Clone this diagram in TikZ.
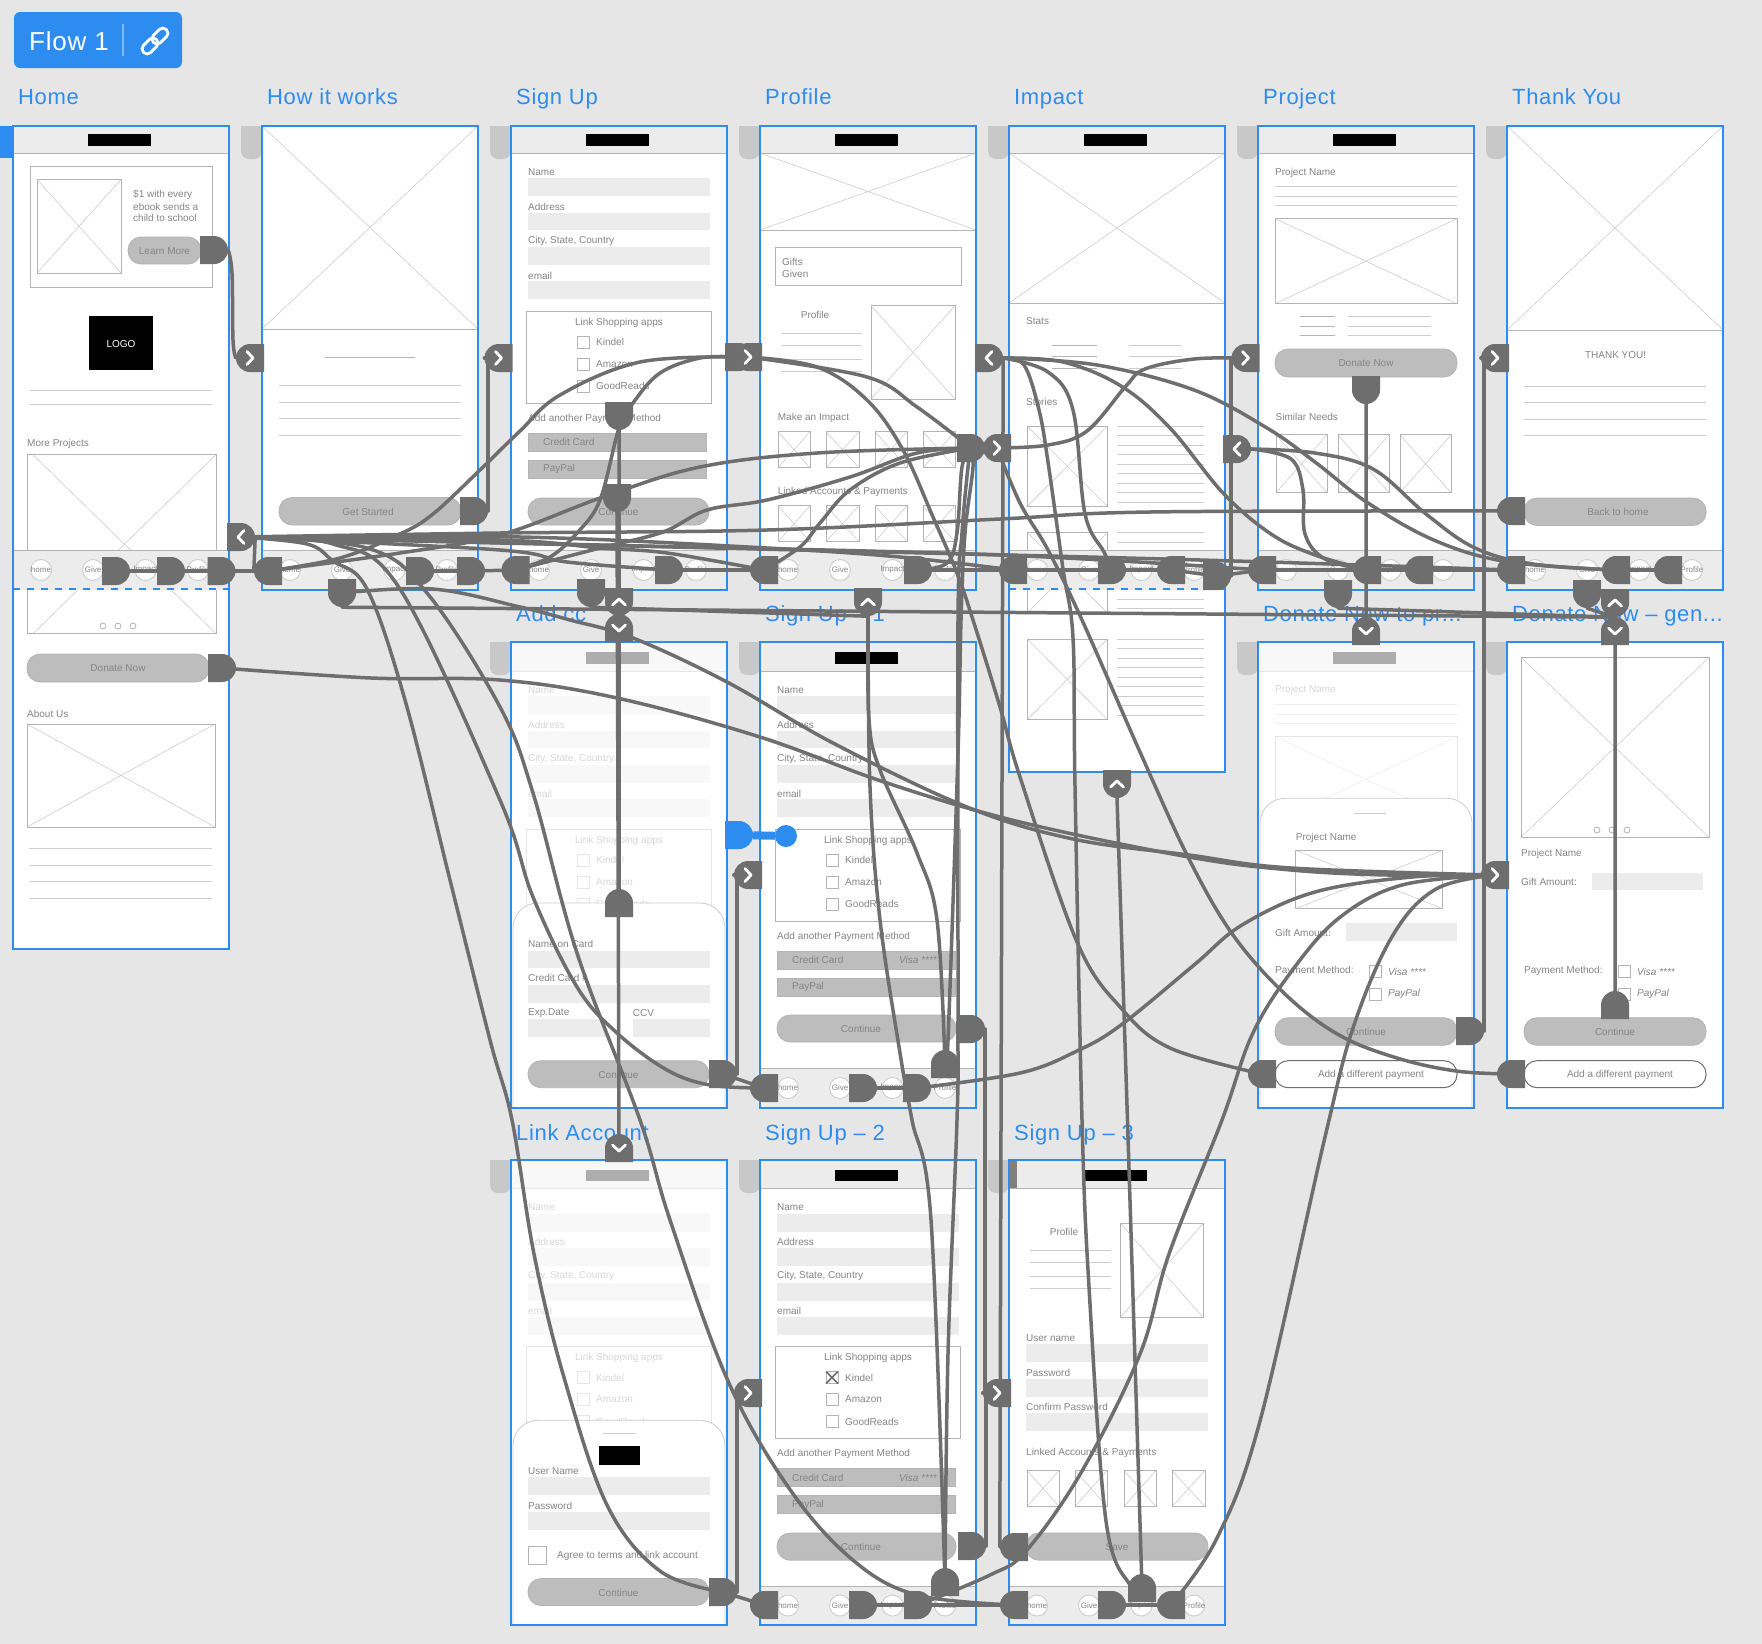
\documentclass[tikz,border=0pt]{standalone}
\usepackage{fontspec}
\setmainfont{Liberation Sans}
\newfontfamily\titlefont[LetterSpace=3]{Liberation Sans}
\usetikzlibrary{shapes.misc}

\definecolor{flowblue}{HTML}{2D8CF0}
\definecolor{flowgray}{HTML}{6E6E6E}
\definecolor{canvasgray}{HTML}{E6E6E6}
\definecolor{stubgray}{HTML}{C8C8C8}
\definecolor{barfill}{HTML}{ECECEC}
\definecolor{btnfill}{HTML}{BDBDBD}
\definecolor{wiregray}{HTML}{B4B4B4}
\definecolor{crossgray}{HTML}{CDCDCD}
\definecolor{textgray}{HTML}{858585}

\pgfdeclarelayer{screens}
\pgfdeclarelayer{lines}
\pgfsetlayers{screens,lines,main}

\newcounter{labnum}

\tikzset{
  hot/.style={rounded rectangle, rounded rectangle west arc=none, fill=flowgray,
    minimum width=26pt, minimum height=28pt, inner sep=0pt},
  hotR/.style={hot},
  hotL/.style={hot, rotate=180},
  hotD/.style={hot, rotate=-90},
  hotU/.style={hot, rotate=90},
  chevron/.style={draw=white, line width=2.8pt, line cap=round, line join=round},
  flowline/.style={draw=flowgray, line width=3.5pt, line cap=round, line join=round},
  lab/.style={anchor=west, inner sep=0pt, text=textgray, font=\fontsize{10}{12}\selectfont},
  clab/.style={lab, anchor=center},
  navlab/.style={clab, font=\fontsize{8}{10}\selectfont},
  title/.style={anchor=base west, inner sep=0pt, text=flowblue, font=\titlefont\fontsize{22}{26}\selectfont},
  wirebox/.style={draw=wiregray, line width=0.9pt},
  wirecross/.style={draw=crossgray, line width=0.6pt},
  wireline/.style={draw=crossgray, line width=1pt},
  btn/.style={draw=wiregray, fill=btnfill, line width=0.8pt, rounded corners=13pt},
  btnout/.style={draw=flowgray, fill=white, line width=1pt, rounded corners=13pt},
}

% Small wireframe pieces, all in the coordinates of their screen
\newcommand{\lab}[3]{\stepcounter{labnum}\node[lab] (lab\arabic{labnum}) at (#1,#2) {#3};}
\newcommand{\clab}[3]{\stepcounter{labnum}\node[clab] (lab\arabic{labnum}) at (#1,#2) {#3};}
\newcommand{\wirex}[4]{
  \draw[wirecross] (#1,#2) -- (#3,#4) (#1,#4) -- (#3,#2);
  \draw[wirebox] (#1,#2) rectangle (#3,#4);
}
\newcommand{\wline}[3]{\draw[wireline] (#1,#3) -- (#2,#3);}
\newcommand{\fieldbar}[4]{\fill[barfill] (#1,#2) rectangle (#3,#4);}
\newcommand{\btnbar}[5]{
  \draw[btn] (#1,#2) rectangle (#3,#4);
  \clab{#1/2+#3/2}{#2/2+#4/2+0.5}{#5}
}
\newcommand{\checkbox}[2]{\draw[wirebox, fill=white] (#1,#2-6) rectangle (#1+12,#2+6);}
\newcommand{\topbar}[1]{
  \fill[barfill] (0,#1) rectangle (216,27);
  \draw[wirebox] (0,27) -- (216,27);
  \fill[black] (75,8) rectangle (138,19.5);
}
\newcommand{\navbar}{
  \fill[barfill] (0,424.5) rectangle (216,464);
  \draw[wirebox] (0,424.5) -- (216,424.5);
  \foreach \nx/\ntext in {28/home,80/Give,132.5/Impact,185/Profile} {
    \draw[wirecross, line width=0.9pt, fill=white] (\nx,444) circle (10.5);
    \stepcounter{labnum}
    \node[navlab] (lab\arabic{labnum}) at (\nx,444) {\ntext};
  }
}
\newcommand{\dashline}{\draw[flowblue, line width=2pt, dash pattern=on 7pt off 7pt] (0,463) -- (216,463);}
\newcommand{\threedots}[1]{
  \foreach \dx in {90,105,120} {\draw[wiregray, line width=0.8pt] (\dx,#1) circle (3);}
}
\newcommand{\fadeout}[1]{\fill[white, opacity=.68] (0,-2) rectangle (216,#1);}
\newcommand{\sheetup}[1]{
  \draw[crossgray, fill=white, line width=0.8pt, rounded corners=25pt] (2,464) -- (2,#1) -- (214,#1) -- (214,464);
}
% The form that five of the screens share
\newcommand{\signform}{
  \lab{17}{45.7}{Name}
  \fieldbar{17}{52}{199}{70}
  \lab{17}{80.7}{Address}
  \fieldbar{17}{86.7}{199}{104}
  \lab{17}{114.7}{City, State, Country}
  \fieldbar{17}{121}{199}{139}
  \lab{17}{149.7}{email}
  \fieldbar{17}{155}{199}{173}
  \draw[wirebox] (15,185) rectangle (200,277);
  \clab{108}{196.7}{Link Shopping apps}
  \checkbox{66}{216} \lab{85}{216}{Kindel}
  \checkbox{66}{238} \lab{85}{238}{Amazon}
  \checkbox{66}{260} \lab{85}{260}{GoodReads}
}
\newcommand{\payform}{
  \lab{17}{292.7}{Add another Payment Method}
  \draw[wirebox, fill=btnfill] (17,307) rectangle (195,325);
  \lab{32}{316}{Credit Card}
  \draw[wirebox, fill=btnfill] (17,334) rectangle (195,352);
  \lab{32}{343}{PayPal}
}
\newcommand{\projecthead}{
  \lab{17}{45.7}{Project Name}
  \wline{17}{199}{60} \wline{17}{199}{70} \wline{17}{199}{79.5}
  \wirex{17}{92.6}{199}{177.8}
}
\newcommand{\stub}[2]{
  \fill[stubgray] (#1,#2) -- (#1-21,#2) {[rounded corners=8pt] -- (#1-21,#2+33) -- (#1,#2+33)} -- cycle;
}
\newcommand{\flowtab}[4]{
  \node[#3] (#1) at (#2) {};
  \draw[chevron, shift={(#1.center)}, rotate=#4] (-3,6.5) -- (3,0) -- (-3,-6.5);
}

\def\framelist{13/126/823, 262/126/464, 511/126/464, 760/126/464, 1009/126/646, 1258/126/464, 1507/126/464,
  511/642/466, 760/642/466, 1258/642/466, 1507/642/466, 511/1160/465, 760/1160/465, 1009/1160/465}

\begin{document}
\begin{tikzpicture}[x=1pt, y=-1pt]
  \useasboundingbox (0,0) rectangle (1762,1644);

  \begin{pgfonlayer}{screens}
    \fill[canvasgray] (0,0) rectangle (1762,1644);

    % Flow button
    \fill[flowblue, rounded corners=6pt] (14,12) rectangle (182,68);
    \node[anchor=base west, inner sep=0pt, text=white, font=\titlefont\fontsize{26}{30}\selectfont] (flowName) at (29,50) {Flow 1};
    \draw[white, opacity=.4, line width=1.2pt] (123,24) -- (123,56);
    \begin{scope}[shift={(155,41)}, rotate=45]
      \draw[white, line width=2.8pt, rounded corners=4.5pt] (-16,-5) rectangle (2,5);
      \draw[white, line width=2.8pt, rounded corners=4.5pt] (-2,-5) rectangle (16,5);
    \end{scope}

    % Titles
    \node[title] (titleHome) at (18,104) {Home};
    \node[title] (titleWorks) at (267,104) {How it works};
    \node[title] (titleSign) at (516,104) {Sign Up};
    \node[title] (titleProfile) at (765,104) {Profile};
    \node[title] (titleImpact) at (1014,104) {Impact};
    \node[title] (titleProject) at (1263,104) {Project};
    \node[title] (titleThank) at (1512,104) {Thank You};
    \node[title] (titleCc) at (516,621) {Add cc};
    \node[title] (titleOne) at (765,621) {Sign Up – 1};
    \node[title] (titleDonate) at (1263,621) {Donate Now to pr...};
    \node[title] (titleGen) at (1512,621) {Donate Now – gen...};
    \node[title] (titleLink) at (516,1140) {Link Account};
    \node[title] (titleTwo) at (765,1140) {Sign Up – 2};
    \node[title] (titleThree) at (1014,1140) {Sign Up – 3};

    % Stubs behind the screens
    \fill[flowblue] (0,126) rectangle (13,158);
    \foreach \sx/\sy in {262/126, 511/126, 760/126, 1009/126, 1258/126, 1507/126,
      511/642, 760/642, 1258/642, 1507/642, 511/1160, 760/1160, 1009/1160} {
      \stub{\sx}{\sy}
    }

    % White screens
    \foreach \fx/\fy/\fh in \framelist {
      \fill[white] (\fx,\fy) rectangle (\fx+216,\fy+\fh);
    }

    % Home
    \begin{scope}[shift={(13,126)}]
      \topbar{0}
      \draw[wirebox] (17,40) rectangle (199,161);
      \wirex{24}{53.5}{108}{147}
      \lab{120}{68.5}{\$1 with every}
      \lab{120}{80.5}{ebook sends a}
      \lab{120}{92}{child to school}
      \btnbar{115}{111}{188}{138}{Learn More}
      \fill[black] (76,189.5) rectangle (140,244);
      \node[clab, text=white] (logoText) at (108,218) {LOGO};
      \wline{17}{199}{264} \wline{17}{199}{278}
      \lab{14}{318}{More Projects}
      \draw[wirecross] (20,328.7) -- (203,507.7) (203,328.7) -- (20,507.7);
      \draw[wirebox] (14,328.7) rectangle (203,507.7);
      \threedots{500}
      \btnbar{14}{528}{196}{556}{Donate Now}
      \lab{14}{588}{About Us}
      \wirex{14}{598}{202}{701}
      \wline{16}{199}{722} \wline{16}{199}{739} \wline{16}{199}{755} \wline{16}{199}{772}
      \navbar
      \dashline
    \end{scope}

    % How it works
    \begin{scope}[shift={(262,126)}]
      \wirex{0}{0}{216}{203}
      \draw[wiregray, line width=1pt] (63,231) -- (153,231);
      \wline{17}{199}{259.5} \wline{17}{199}{276} \wline{17}{199}{292.5} \wline{17}{199}{309}
      \btnbar{17}{371.5}{199}{399}{}
      \clab{106}{385.5}{Get Started}
      \navbar
    \end{scope}

    % Sign Up
    \begin{scope}[shift={(511,126)}]
      \topbar{0}
      \signform
      \payform
      \btnbar{17}{372}{198}{399}{Continue}
      \navbar
    \end{scope}

    % Profile
    \begin{scope}[shift={(760,126)}]
      \topbar{0}
      \wirex{0}{27}{216}{104}
      \draw[wirebox] (15,121) rectangle (201,159);
      \lab{22}{135.7}{Gifts}
      \lab{22}{147.7}{Given}
      \clab{55}{188.5}{Profile}
      \wline{21}{101.7}{207} \wline{21}{101.7}{219} \wline{21}{101.7}{233} \wline{21}{101.7}{245}
      \wirex{111}{179.7}{195}{273}
      \lab{17.7}{292}{Make an Impact}
      \lab{17.7}{366}{Linked Accounts \& Payments}
      \foreach \ix/\iy in {18/50, 66/99, 115/147, 163/195} {
        \wirex{\ix}{305.7}{\iy}{341.7}
        \wirex{\ix}{379.7}{\iy}{415.7}
      }
      \navbar
    \end{scope}

    % Impact
    \begin{scope}[shift={(1009,126)}]
      \topbar{0}
      \wirex{0}{27}{216}{177}
      \lab{17}{194.7}{Stats}
      \foreach \ly in {219,230.6,242} {
        \draw[wiregray, line width=1pt] (43,\ly) -- (88,\ly);
        \wline{120}{173}{\ly}
      }
      \lab{17}{276}{Stories}
      \wirex{18.6}{300.5}{98}{380}
      \wirex{18.6}{406.7}{98}{486.7}
      \wirex{18.6}{513.3}{98}{593.3}
      \foreach \ly in {300,309.5,...,377} {\wline{107.8}{195}{\ly}}
      \foreach \ly in {406.7,416.2,...,484} {\wline{107.8}{195}{\ly}}
      \foreach \ly in {513.3,522.8,...,590} {\wline{107.8}{195}{\ly}}
      \navbar
      \dashline
    \end{scope}

    % Project
    \begin{scope}[shift={(1258,126)}]
      \topbar{0}
      \lab{17}{46.5}{Project Name}
      \wline{17}{199}{60} \wline{17}{199}{70} \wline{17}{199}{79.5}
      \wirex{17}{92.6}{199}{177.8}
      \foreach \ly in {190.6,200,209} {
        \draw[wiregray, line width=1pt] (42,\ly) -- (77,\ly);
        \wline{89.5}{173}{\ly}
      }
      \btnbar{17}{223}{199}{251}{Donate Now}
      \lab{17.5}{291}{Similar Needs}
      \wirex{18}{308.8}{69}{366.8}
      \wirex{80}{308.8}{131}{366.8}
      \wirex{142}{308.8}{193}{366.8}
      \navbar
    \end{scope}

    % Thank You
    \begin{scope}[shift={(1507,126)}]
      \wirex{0}{0}{216}{204}
      \clab{108.6}{229}{THANK YOU!}
      \wline{17}{199}{260} \wline{17}{199}{276} \wline{17}{199}{293} \wline{17}{199}{309.5}
      \btnbar{17}{372}{199}{399.5}{}
      \clab{111}{386}{Back to home}
      \navbar
    \end{scope}

    % Add cc
    \begin{scope}[shift={(511,644)}]
      \topbar{-2}
      \signform
      \fadeout{464}
      \sheetup{259}
      \lab{17}{300}{Name on Card}
      \fieldbar{17}{306.7}{199}{324}
      \lab{17}{334}{Credit Card \#}
      \fieldbar{17}{341}{199}{359}
      \lab{17}{369}{Exp.Date}
      \lab{121.7}{369}{CCV}
      \fieldbar{17}{375}{94.7}{393}
      \fieldbar{121.7}{375}{199}{393}
      \btnbar{17}{416.7}{198}{443.7}{Continue}
    \end{scope}

    % Sign Up - 1
    \begin{scope}[shift={(760,644)}]
      \topbar{-2}
      \signform
      \payform
      \lab{139}{316}{\itshape Visa ****}
      \btnbar{17}{371}{196}{398}{}
      \clab{101}{385}{Continue}
      \navbar
    \end{scope}

    % Donate Now to project
    \begin{scope}[shift={(1258,644)}]
      \topbar{-2}
      \projecthead
      \fadeout{464}
      \sheetup{154.3}
      \wline{96}{128}{169}
      \lab{37.7}{193.7}{Project Name}
      \wirex{37.7}{206.3}{184.6}{264.7}
      \lab{17}{288.7}{Gift Amount:}
      \fieldbar{88}{279.3}{199}{297}
      \lab{17}{326.7}{Payment Method:}
      \checkbox{111}{327.7} \lab{130}{328}{\itshape Visa ****}
      \checkbox{111}{350} \lab{130}{350}{\itshape PayPal}
      \btnbar{17}{373.7}{199}{401.3}{Continue}
      \draw[btnout] (17,416.7) rectangle (199,443.7);
      \clab{113}{430.5}{Add a different payment}
    \end{scope}

    % Donate Now - general
    \begin{scope}[shift={(1507,644)}]
      \wirex{14}{13.3}{202}{193.3}
      \threedots{186}
      \lab{14}{209.7}{Project Name}
      \lab{14}{237.7}{Gift Amount:}
      \fieldbar{85}{228.7}{196}{246.3}
      \lab{17}{326.7}{Payment Method:}
      \checkbox{111}{327.7} \lab{130}{328}{\itshape Visa ****}
      \checkbox{111}{350} \lab{130}{350}{\itshape PayPal}
      \btnbar{17}{373.7}{199}{401.3}{Continue}
      \draw[btnout] (17,416.7) rectangle (199,443.7);
      \clab{113}{430.5}{Add a different payment}
    \end{scope}

    % Link Account
    \begin{scope}[shift={(511,1161.5)}]
      \topbar{-1.5}
      \signform
      \fadeout{463}
      \sheetup{258.8}
      \wline{92}{125}{272}
      \fill[black] (88,284.7) rectangle (129,303);
      \lab{17}{309.5}{User Name}
      \fieldbar{17}{315}{199}{333.5}
      \lab{17}{344.5}{Password}
      \fieldbar{17}{350.5}{199}{368.5}
      \draw[wirebox] (17,385) rectangle (35,402.6);
      \lab{46}{394.6}{Agree to terms and link account}
      \btnbar{17}{417}{198}{444}{Continue}
    \end{scope}

    % Sign Up - 2
    \begin{scope}[shift={(760,1161.5)}]
      \topbar{-1.5}
      \signform
      \payform
      \draw[flowgray, line width=1.6pt] (66,210) -- (78,222) (66,222) -- (78,210);
      \lab{139}{316}{\itshape Visa ****}
      \btnbar{17}{371.5}{196}{398.7}{}
      \clab{101}{385.5}{Continue}
      \navbar
    \end{scope}

    % Sign Up - 3
    \begin{scope}[shift={(1009,1161.5)}]
      \topbar{-1.5}
      \fill[gray] (1,-1) rectangle (8,26);
      \clab{55}{70}{Profile}
      \wline{21}{102}{89} \wline{21}{102}{101} \wline{21}{102}{115} \wline{21}{102}{127}
      \wirex{111.5}{62}{194}{155.8}
      \lab{17}{176.5}{User name}
      \fieldbar{17}{182.5}{199}{200.5}
      \lab{17}{211}{Password}
      \fieldbar{17}{217}{199}{235.5}
      \lab{17}{245.5}{Confirm Password}
      \fieldbar{17}{251.5}{199}{269.5}
      \lab{17}{291}{Linked Accounts \& Payments}
      \foreach \ix/\iy in {18/50, 66/98, 115/147, 163/196} {
        \wirex{\ix}{309}{\iy}{345}
      }
      \btnbar{17}{371.5}{199}{398.7}{Save}
      \navbar
    \end{scope}

    % Blue screen edges
    \foreach \fx/\fy/\fh in \framelist {
      \draw[flowblue, line width=2.4pt] (\fx,\fy) rectangle (\fx+216,\fy+\fh);
    }
  \end{pgfonlayer}

  % Hot spots
  \node[hotR] (hLearn) at (214,250) {};
  \node[hotR] (hDonate) at (222,668) {};
  \node[hotR] (hNav1) at (116,571) {};
  \node[hotR] (hNav2) at (171,571) {};
  \node[hotR] (hNav3) at (221.5,571) {};
  \node[hotR] (wStart) at (474,511) {};
  \node[hotL] (wNav1) at (268,571) {};
  \node[hotR] (wNav2) at (420,571) {};
  \node[hotR] (wNav3) at (471,571) {};
  \node[hotD] (wDown) at (342,593) {};
  \node[hotD] (sLink) at (619,416) {};
  \node[hotD] (sCont) at (617,498) {};
  \node[hotL] (sNav1) at (515.5,570) {};
  \node[hotR] (sNav2) at (669,570) {};
  \node[hotD] (sDown) at (591,593) {};
  \node[hotL] (pNav1) at (764,570) {};
  \node[hotR] (pNav2) at (918,570) {};
  \node[hotR] (pHub) at (971,448) {};
  \node[hotL] (iNav1) at (1013,570) {};
  \node[hotR] (iNav2) at (1112,570) {};
  \node[hotL] (iNav3) at (1171,570) {};
  \node[hotR] (iNav4) at (1217,576) {};
  \node[hotD] (jDonate) at (1366,390) {};
  \node[hotL] (jNav1) at (1262,570) {};
  \node[hotL] (jNav2) at (1367,570) {};
  \node[hotL] (jNav3) at (1419,570) {};
  \node[hotD] (jDown) at (1338,594) {};
  \node[hotL] (yBack) at (1511,511) {};
  \node[hotL] (yNav1) at (1511,570) {};
  \node[hotL] (yNav2) at (1616,570) {};
  \node[hotL] (yNav3) at (1668,570) {};
  \node[hotD] (yDown) at (1587,594) {};
  \node[hotU] (cUp) at (619,903) {};
  \node[hotR] (cCont) at (723,1074) {};
  \node[hotL] (aNav1) at (764,1088) {};
  \node[hotR] (aNav2) at (863,1088) {};
  \node[hotR] (aNav3) at (917,1088) {};
  \node[hotR] (aCont) at (971,1029) {};
  \node[hotU] (aUp) at (945,1064) {};
  \node[hotR] (dCont) at (1470,1031) {};
  \node[hotL] (dAdd) at (1262,1074) {};
  \node[hotU] (gUp) at (1615,1005) {};
  \node[hotL] (gAdd) at (1511,1074) {};
  \node[hotR] (lCont) at (723,1592) {};
  \node[hotL] (bNav1) at (764,1605) {};
  \node[hotR] (bNav2) at (863,1605) {};
  \node[hotR] (bNav3) at (918,1605) {};
  \node[hotR] (bCont) at (972,1546) {};
  \node[hotU] (bUp) at (945,1582) {};
  \node[hotL] (eSave) at (1014,1547) {};
  \node[hotL] (eNav1) at (1014,1605) {};
  \node[hotR] (eNav2) at (1112,1605) {};
  \node[hotU] (eUp) at (1142,1588) {};
  \node[hotL] (eNav3) at (1171,1605) {};
  \node[hotR, fill=flowblue] (blueHot) at (739,835) {};
  \node[circle, fill=flowblue, minimum size=22pt, inner sep=0pt] (blueDot) at (786,836) {};

  % Tabs with their chevrons
  \flowtab{tabHome}{241,537}{hotR}{180}
  \flowtab{tabWorks}{250,358}{hotL}{0}
  \flowtab{tabSign}{498.5,358}{hotL}{0}
  \node[hotR] (tabProfileB) at (739,357) {};
  \flowtab{tabProfile}{748,357}{hotL}{0}
  \flowtab{tabImpact}{989,358}{hotR}{180}
  \flowtab{tabImpactB}{997,448}{hotL}{0}
  \flowtab{tabProject}{1245.5,358}{hotL}{0}
  \flowtab{tabProjectB}{1237,449}{hotR}{180}
  \flowtab{tabThank}{1495,358}{hotL}{0}
  \flowtab{tabSignUp}{619,602}{hotD}{90}
  \flowtab{tabCc}{619,628}{hotU}{-90}
  \flowtab{tabProfileUp}{868,602}{hotD}{90}
  \flowtab{tabImpactUp}{1117,784}{hotD}{90}
  \flowtab{tabDonateP}{1366,631}{hotU}{-90}
  \flowtab{tabThankUp}{1615,603}{hotD}{90}
  \flowtab{tabGen}{1615,631}{hotU}{-90}
  \flowtab{tabSignOne}{748,875}{hotL}{0}
  \flowtab{tabDonateG}{1495,875}{hotL}{0}
  \flowtab{tabLink}{619,1148}{hotU}{-90}
  \flowtab{tabSignTwo}{748,1393}{hotL}{0}
  \flowtab{tabSignThree}{997,1393}{hotL}{0}

  \begin{pgfonlayer}{lines}
    % Blue link
    \draw[flowblue, line width=8pt] (blueHot) -- (blueDot);

    % Nav rows
    \foreach \a/\b in {hNav1/hNav2, hNav2/hNav3, hNav3/wNav1, wNav2/wNav3, wNav3/sNav1,
      sNav2/pNav1, pNav2/iNav1, iNav1/iNav2, iNav2/iNav3, iNav3/iNav4,
      iNav4/jNav1, jNav1/jNav2, jNav2/jNav3, jNav3/yNav1, yNav2/yNav3,
      cCont/aNav1, aNav2/aNav3, lCont/bNav1, bNav2/bNav3, bNav3/eNav1, eNav2/eNav3} {
      \draw[flowline] (\a.center) -- (\b.center);
    }

    % Straight runs
    \draw[flowline] (sLink) -- (tabCc);
    \draw[flowline] (sCont) -- (tabLink);
    \draw[flowline] (cUp) -- (tabSignUp);
    \draw[flowline] (jDonate) -- (tabDonateP);
    \draw[flowline] (gUp) -- (tabGen);
    \draw[flowline] (tabImpact.east) -- (eSave.east);
    \draw[flowline] (tabHome.east) -- (wNav1.east);
    \draw[flowline] (wStart.east) |- (tabSign);
    \draw[flowline] (dCont.east) |- (tabThank);
    \draw[flowline] (cCont.east) |- (tabSignOne);
    \draw[flowline] (lCont.east) |- (tabSignTwo);
    \draw[flowline] (iNav4.east) |- (tabProject);
    \draw[flowline] (aCont.east) |- (tabSignThree);
    \draw[flowline] (bCont.east) |- (tabSignThree);
    \draw[flowline] (wDown.east) -- (tabThankUp.east);
    \draw[flowline] (sDown.east) -- (tabProfileUp.east);
    \draw[flowline] (jDown.east) -- (tabThankUp.east);
    \draw[flowline] (yDown.east) -- (tabThankUp.east);

    % Curves out of Home
    \draw[flowline] plot[smooth, tension=.6] coordinates {(hLearn.east) (232,273) (233,340) (tabWorks.east)};
    \draw[flowline] plot[smooth, tension=.6] coordinates {(hDonate) (371,678) (500,680) (617,698) (760,737) (887,783) (1020,822) (1189,857) (1291,870) (1388,875) (tabDonateG)};
    \draw[flowline] plot[smooth, tension=.6] coordinates {(tabHome) (520,537) (767,548) (900,557) (iNav1)};
    \draw[flowline] plot[smooth, tension=.6] coordinates {(tabHome) (500,540) (600,548) (667,553) (pNav1)};
    \draw[flowline] plot[smooth, tension=.6] coordinates {(tabHome) (500,550) (567,562) (sNav2)};
    \draw[flowline] plot[smooth, tension=.6] coordinates {(tabHome) (600,545) (1000,555) (jNav1)};
    \draw[flowline] plot[smooth, tension=.6] coordinates {(tabHome) (800,550) (1200,560) (yNav1)};
    \draw[flowline] plot[smooth, tension=.6] coordinates {(yBack) (1150,512) (1000,519) (767,530) (500,533) (tabHome)};
    \draw[flowline] plot[smooth, tension=.6] coordinates {(tabHome) (307,544) (333,561) (367,589) (405,700) (450,880) (490,1040) (512,1120) (534,1254) (563,1374) (607,1505) (660,1571) (lCont)};
    \draw[flowline] plot[smooth, tension=.6] coordinates {(tabHome) (333,544) (400,589) (500,800) (533,897) (577,987) (617,1033) (667,1070) (710,1085) (aNav1)};
    \draw[flowline] plot[smooth, tension=.6] coordinates {(tabHome) (367,548) (427,593) (500,707) (533,793) (577,953) (640,1120) (670,1220) (728,1381) (791,1491) (854,1561) (917,1595) (eNav1)};

    % Curves at Profile
    \draw[flowline] plot[smooth, tension=.6] coordinates {(tabProfileB) (640,362) (560,395) (520,431) (480,470) (433,514) (400,534) (340,558) (wNav1)};
    \draw[flowline] plot[smooth, tension=.6] coordinates {(tabProfileB) (700,358) (660,373) (633,403) (619,428) (600,500) (577,533) (550,557) (sNav1)};
    \draw[flowline] plot[smooth, tension=.6] coordinates {(tabProfile) (867,377) (917,407) (pHub)};
    \draw[flowline] plot[smooth, tension=.6] coordinates {(tabProfile) (817,367) (867,400) (903,450) (933,517) (957,573) (973,620) (1000,707) (1020,777) (1077,942) (1121,1008) (1170,1048) (dAdd)};
    \draw[flowline] plot[smooth, tension=.6] coordinates {(wNav1) (400,553) (500,535) (603,497) (700,467) (817,453) (pHub)};
    \draw[flowline] plot[smooth, tension=.6] coordinates {(sNav1) (600,548) (663,532) (707,510) (767,500) (850,477) (917,453) (pHub)};
    \draw[flowline] plot[smooth, tension=.6] coordinates {(pNav1) (800,547) (820,523) (850,490) (900,463) (pHub)};
    \draw[flowline] plot[smooth, tension=.6] coordinates {(pHub) (962,467) (957,533) (947,563) (pNav2)};
    \draw[flowline] plot[smooth, tension=.6] coordinates {(pHub) (973,467) (965,533) (961,620) (958,753) (948,1040) (aUp)};
    \draw[flowline] plot[smooth, tension=.6] coordinates {(pHub) (968,467) (962,533) (958,620) (958,1015) (957,1120) (948,1354) (bUp)};
    \draw[flowline] plot[smooth, tension=.6] coordinates {(tabProfileUp.east) (869,720) (880,770) (917,853) (937,920) (aUp)};
    \draw[flowline] plot[smooth, tension=.6] coordinates {(tabProfileUp.east) (870,787) (880,920) (900,1053) (912,1120) (931,1220) (bUp)};

    % Curves at Impact
    \draw[flowline] plot[smooth, tension=.6] coordinates {(tabImpactB) (1048,445) (1087,431) (1126,386) (1145,369) (1194,359) (tabProject)};
    \draw[flowline] plot[smooth, tension=.6] coordinates {(tabImpactB) (1020,503) (1048,550) (1082,620) (1140,752) (1189,859) (1233,935) (1286,995) (1339,1035) (1397,1058) (1456,1071) (gAdd)};
    \draw[flowline] plot[smooth, tension=.6] coordinates {(tabImpact.east) (1024,365) (1039,410) (1048,462) (1063,569) (1073,638) (1075,786) (1082,1120) (1089,1287) (1106,1521) (1130,1585) (eUp)};
    \draw[flowline] plot[smooth, tension=.6] coordinates {(tabImpact.east) (1048,372) (1073,410) (1085,514) (1104,552) (iNav2)};
    \draw[flowline] plot[smooth, tension=.6] coordinates {(tabImpact.east) (1063,362) (1121,386) (1170,428) (1223,493) (1271,534) (1315,555) (jNav2)};
    \draw[flowline] plot[smooth, tension=.6] coordinates {(tabImpact.east) (1097,365) (1194,390) (1267,428) (1315,462) (1368,503) (1436,541) (1509,562) (yNav2)};
    \draw[flowline] plot[smooth, tension=.6] coordinates {(tabProjectB.east) (1291,459) (1303,490) (1305,534) (1325,559) (jNav2)};
    \draw[flowline] plot[smooth, tension=.6] coordinates {(tabProjectB.east) (1315,453) (1373,469) (1426,514) (1475,548) (1533,564) (yNav2)};
    \draw[flowline] plot[smooth, tension=.6] coordinates {(tabImpactUp.east) (1128,1137) (eUp)};

    % Curves into the Donate tab
    \draw[flowline] plot[smooth, tension=.6] coordinates {(bNav3) (990,1575) (1026,1551) (1082,1471) (1140,1354) (1169,1254) (1222,1120) (1252,1035) (1291,972) (1339,918) (1402,885) (tabDonateG)};
    \draw[flowline] plot[smooth, tension=.6] coordinates {(eNav3) (1217,1538) (1260,1421) (1325,1137) (1354,1025) (1393,935) (1436,889) (tabDonateG)};
    \draw[flowline] plot[smooth, tension=.6] coordinates {(aNav3) (1020,1073) (1077,1051) (1121,1025) (1194,965) (1242,925) (1315,892) (1412,877) (tabDonateG)};
    \draw[flowline] plot[smooth, tension=.6] coordinates {(wDown) (433,589) (520,607) (570,620) (633,638) (727,682) (833,743) (967,807) (1073,839) (1189,855) (1291,868) (tabDonateG)};
  \end{pgfonlayer}
\end{tikzpicture}
\end{document}
